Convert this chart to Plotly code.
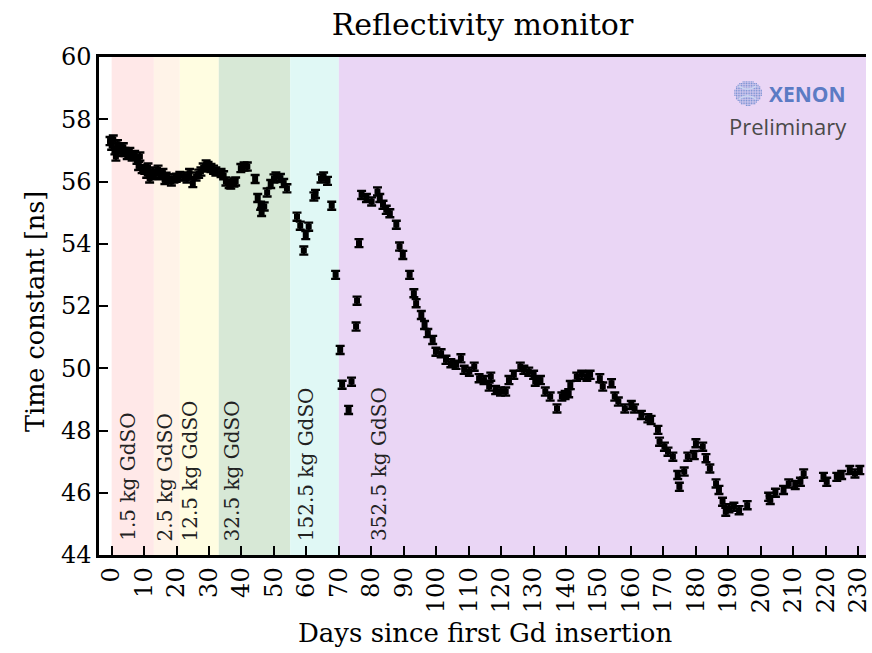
import base64
import plotly.graph_objects as go

# Calibration runs: day since first Gd insertion and fitted time constant [ns]
days = [
    -0.5, 0.0, 0.5, 1.0, 1.3, 1.8, 2.5, 3.0, 3.6, 4.1, 4.8, 5.6, 6.3, 7.1, 7.8,
    8.3, 8.7, 9.4, 10.2, 10.8, 11.2, 11.7, 12.3, 12.7, 13.5, 14.3, 15.0, 15.8,
    16.4, 16.8, 17.6, 18.4, 19.2, 19.9, 21.0, 22.4, 23.2, 24.0, 25.0, 26.0,
    26.8, 27.5, 28.2, 29.1, 29.7, 30.6, 31.4, 32.1, 33.7, 34.5, 35.2, 36.2,
    36.7, 37.7, 38.2, 39.8, 40.8, 41.8, 44.2, 45.0, 45.9, 46.2, 47.0, 47.9,
    49.0, 50.0, 50.6, 52.0, 53.0, 54.0, 57.1, 58.1, 59.2, 59.8, 60.7, 62.3,
    62.8, 64.5, 65.3, 66.5, 67.8, 69.0, 70.4, 71.0, 73.0, 73.9, 75.3, 75.6,
    76.2, 77.0, 78.5, 80.1, 81.9, 82.6, 83.6, 84.6, 85.7, 87.7, 88.7, 89.7,
    91.8, 93.1, 93.8, 95.4, 96.4, 97.4, 98.9, 99.9, 101.5, 103.0, 104.5,
    106.1, 107.6, 108.6, 110.2, 111.7, 113.2, 114.7, 116.3, 116.8, 118.3,
    119.8, 121.4, 122.4, 123.9, 125.9, 127.0, 128.5, 130.0, 130.5, 132.1,
    133.6, 135.1, 137.2, 138.7, 139.7, 140.8, 141.3, 143.3, 144.8, 146.4,
    147.4, 150.4, 151.3, 154.0, 155.0, 156.1, 158.1, 160.1, 161.1, 163.2,
    165.2, 166.2, 168.3, 168.8, 170.3, 171.4, 172.9, 174.4, 174.9, 176.4,
    177.5, 179.5, 180.0, 182.1, 183.1, 184.3, 186.2, 187.1, 188.2, 189.2,
    190.2, 191.7, 193.3, 195.8, 202.4, 202.9, 204.5, 207.0, 208.6, 210.6,
    212.2, 213.2, 219.3, 220.3, 223.4, 224.9, 227.4, 229.0, 230.5,
]
tau_ns = [
    57.30, 57.15, 57.35, 57.00, 56.80, 57.20, 57.05, 56.95, 57.10, 56.95, 56.85,
    56.95, 56.80, 56.85, 56.70, 56.50, 56.80, 56.40, 56.38, 56.25, 56.45, 56.10,
    56.20, 56.32, 56.25, 56.38, 56.20, 56.27, 56.05, 56.15, 56.10, 56.00, 56.10,
    56.12, 56.18, 56.16, 56.10, 56.27, 55.95, 56.16, 56.25, 56.32, 56.45, 56.55,
    56.50, 56.43, 56.38, 56.32, 56.27, 56.20, 56.00, 55.92, 55.90, 55.97, 56.00,
    56.43, 56.48, 56.48, 56.08, 55.47, 55.22, 55.02, 55.20, 55.65, 55.92, 56.10,
    56.16, 56.11, 55.95, 55.78, 54.87, 54.58, 53.78, 54.28, 54.55, 55.52, 55.60,
    56.10, 56.16, 56.02, 55.22, 53.00, 50.59, 49.47, 48.66, 49.57, 51.34, 52.17,
    54.02, 55.57, 55.47, 55.36, 55.68, 55.47, 55.25, 55.09, 54.98, 54.61, 53.91,
    53.64, 53.00, 52.41, 52.09, 51.71, 51.39, 51.13, 50.91, 50.53, 50.48, 50.27,
    50.16, 50.11, 50.32, 49.95, 49.89, 50.05, 49.68, 49.62, 49.41, 49.73, 49.30,
    49.25, 49.25, 49.62, 49.79, 50.05, 49.95, 49.89, 49.79, 49.57, 49.62, 49.25,
    49.09, 48.71, 49.09, 49.14, 49.20, 49.46, 49.73, 49.79, 49.73, 49.79, 49.68,
    49.41, 49.52, 49.09, 48.93, 48.71, 48.82, 48.71, 48.50, 48.39, 48.34, 48.02,
    47.64, 47.48, 47.32, 47.16, 46.57, 46.19, 46.68, 47.16, 47.21, 47.59, 47.48,
    47.11, 46.78, 46.30, 46.09, 45.71, 45.39, 45.50, 45.55, 45.44, 45.60, 45.87,
    45.77, 46.00, 46.09, 46.30, 46.25, 46.35, 46.62, 46.51, 46.35, 46.51, 46.57,
    46.73, 46.62, 46.73,
]
tau_err = 0.13

# Gd-sulfate loading phases: start day, end day, label
phase_start = [0, 13, 21, 33, 55, 70]
phase_end = [13, 21, 33, 55, 70, 240]
phase_label = ["1.5 kg GdSO", "2.5 kg GdSO", "12.5 kg GdSO",
               "32.5 kg GdSO", "152.5 kg GdSO", "352.5 kg GdSO"]
phase_label_day = [5.2, 16.5, 24.1, 37.0, 59.9, 82.3]
phase_color = ["#ffe8e8", "#fff3e8", "#fffde1", "#d7e8d6", "#e0f8f5", "#ead6f5"]

x_ticks = list(range(0, 231, 10))
y_ticks = list(range(44, 61, 2))

SERIF = "DejaVu Serif"
PLOT_W = 872 - 99 - 6   # plot-area width in px
PLOT_H = 653 - 57 - 98  # plot-area height in px

fig = go.Figure()

for x0, x1, col in zip(phase_start, phase_end, phase_color):
    fig.add_vrect(x0=x0, x1=x1, fillcolor=col, opacity=1.0, line_width=0, layer="below")

fig.add_trace(go.Scatter(
    x=days, y=tau_ns, mode="markers",
    marker=dict(symbol="square", size=6, color="black"),
    error_y=dict(type="constant", value=tau_err, color="black", thickness=2.4, width=4.5),
    showlegend=False,
))

for xd, txt in zip(phase_label_day, phase_label):
    fig.add_annotation(
        x=xd, y=44.38, xref="x", yref="y", text=txt, textangle=-90,
        xanchor="center", yanchor="bottom", showarrow=False,
        font=dict(family=SERIF, size=20, color="#222222"),
    )

# XENON badge: dotted sphere icon built as inline SVG
dots = []
cx, cy, r = 30, 26, 25
for i in range(0, 61, 3):
    for j in range(0, 53, 3):
        if ((i - cx) / r) ** 2 + ((j - cy) / (r * 0.9)) ** 2 <= 1:
            dots.append(f'<rect x="{i}" y="{j}" width="2.2" height="2.2" fill="#7b93d3"/>')
svg = (
    '<svg xmlns="http://www.w3.org/2000/svg" width="60" height="52" viewBox="0 0 60 52">'
    + "".join(dots)
    + '<path d="M14 14 Q30 26 46 14 M14 38 Q30 26 46 38" stroke="#c9d4f0" stroke-width="3" fill="none"/>'
    + "</svg>"
)
fig.add_layout_image(
    source="data:image/svg+xml;base64," + base64.b64encode(svg.encode()).decode(),
    xref="paper", yref="paper", x=(731 - 99) / PLOT_W, y=(555 - 78) / PLOT_H,
    sizex=33 / PLOT_W, sizey=29 / PLOT_H, xanchor="left", yanchor="top",
    sizing="stretch", layer="above",
)
fig.add_annotation(
    xref="paper", yref="paper", x=(767 - 99) / PLOT_W, y=(555 - 94) / PLOT_H,
    xanchor="left", yanchor="middle", showarrow=False, text="<b>XENON</b>",
    font=dict(family="Open Sans", size=21, color="#5b7bc4"),
)
fig.add_annotation(
    xref="paper", yref="paper", x=(788 - 99) / PLOT_W, y=(555 - 126) / PLOT_H,
    xanchor="center", yanchor="middle", showarrow=False, text="Preliminary",
    font=dict(family="Open Sans", size=22, color="#4a4a4a"),
)

# axis titles
fig.add_annotation(
    xref="paper", yref="paper", x=(35 - 99) / PLOT_W, y=(555 - 312) / PLOT_H,
    xanchor="center", yanchor="middle", showarrow=False, textangle=-90,
    text="Time constant [ns]", font=dict(family=SERIF, size=25.5, color="black"),
)
fig.add_annotation(
    xref="paper", yref="paper", x=(485 - 99) / PLOT_W, y=(555 - 633) / PLOT_H,
    xanchor="center", yanchor="middle", showarrow=False,
    text="Days since first Gd insertion", font=dict(family=SERIF, size=26, color="black"),
)

fig.update_layout(
    width=872, height=653,
    margin=dict(l=99, r=6, t=57, b=98, autoexpand=False),
    paper_bgcolor="white", plot_bgcolor="white",
    title=dict(text="Reflectivity monitor", x=0.5, xref="paper", xanchor="center",
               y=1 - 24 / 653, yref="container", yanchor="middle",
               font=dict(family=SERIF, size=30, color="black")),
    font=dict(family=SERIF, color="black"),
    xaxis=dict(
        range=[-3.9, 232.4], tickmode="array", tickvals=x_ticks,
        ticktext=[str(v) for v in x_ticks], tickangle=-90,
        ticklabeloverflow="allow", automargin=False,
        ticks="inside", ticklen=9, tickwidth=2, tickcolor="black",
        showline=True, linewidth=2.5, linecolor="black", mirror=True,
        showgrid=False, zeroline=False,
        tickfont=dict(family=SERIF, size=24, color="black"),
    ),
    yaxis=dict(
        range=[44, 60], tickmode="array", tickvals=y_ticks, automargin=False,
        ticks="inside", ticklen=9, tickwidth=2, tickcolor="black",
        showline=True, linewidth=2.5, linecolor="black",
        showgrid=False, zeroline=False,
        tickfont=dict(family=SERIF, size=24, color="black"),
    ),
)

fig.write_html("out.html")
